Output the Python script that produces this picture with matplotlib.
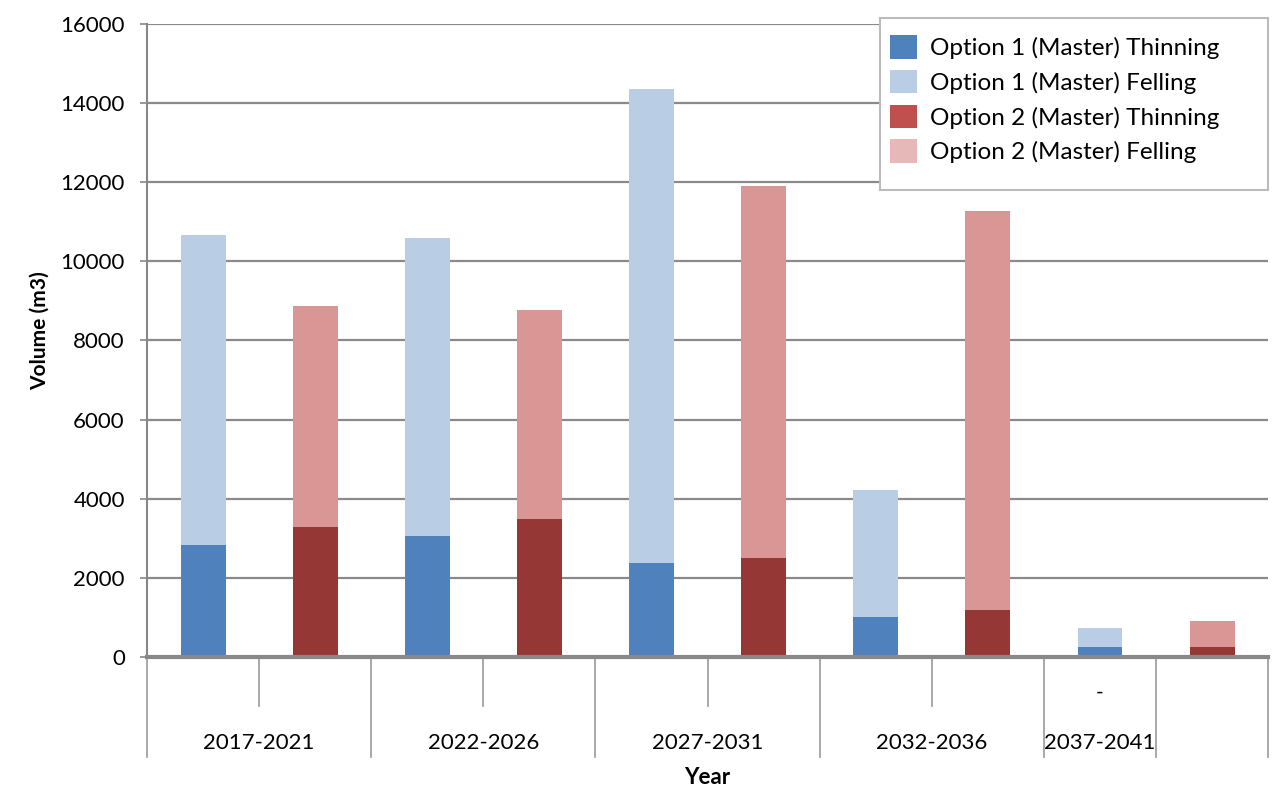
import matplotlib
matplotlib.use("Agg")
import matplotlib.pyplot as plt
from matplotlib.patches import Patch, Rectangle
import numpy as np

# Data (10 category slots; option 1 on odd slots, option 2 on even slots)
slot_sublabels = ["", "", "", "", "", "", "", "", "-", ""]
group_labels = ["2017-2021", "2022-2026", "2027-2031", "2032-2036", "2037-2041", ""]
group_sizes = [2, 2, 2, 2, 1, 1]

opt1_thinning = [2830, None, 3060, None, 2380, None, 1010, None, 250, None]
opt1_felling = [7840, None, 7530, None, 11980, None, 3210, None, 480, None]
opt2_thinning = [None, 3290, None, 3490, None, 2500, None, 1190, None, 250]
opt2_felling = [None, 5580, None, 5280, None, 9400, None, 10080, None, 660]

series_names = ["Option 1 (Master) Thinning", "Option 1 (Master) Felling",
                "Option 2 (Master) Thinning", "Option 2 (Master) Felling"]
bar_colors = ["#4F81BD", "#B9CDE5", "#953735", "#D99694"]
legend_colors = ["#4F81BD", "#B9CDE5", "#C0504D", "#E6B9B8"]

plt.rcParams['font.family'] = ['Lato', 'DejaVu Sans']

fig = plt.figure(figsize=(12.72, 7.87), dpi=100)
ax = fig.add_axes([0.1156, 0.1652, 0.8814, 0.8043])

x = np.arange(len(slot_sublabels))
w = 0.4

def clean(v):
    return np.array([np.nan if a is None else a for a in v], dtype=float)

t1, f1, t2, f2 = map(clean, [opt1_thinning, opt1_felling, opt2_thinning, opt2_felling])
ax.bar(x, np.nan_to_num(t1), w, color=bar_colors[0], zorder=3)
ax.bar(x, np.nan_to_num(f1), w, bottom=np.nan_to_num(t1), color=bar_colors[1], zorder=3)
ax.bar(x, np.nan_to_num(t2), w, color=bar_colors[2], zorder=3)
ax.bar(x, np.nan_to_num(f2), w, bottom=np.nan_to_num(t2), color=bar_colors[3], zorder=3)

ax.set_xlim(-0.5, len(slot_sublabels) - 0.5)
ax.set_ylim(0, 16000)
ax.set_yticks(np.arange(0, 16001, 2000))
ax.tick_params(axis='y', labelsize=16, length=5, width=1.2, color='#888888', pad=11)
ax.set_xticks([])
ax.yaxis.grid(True, color='#8a8a8a', linewidth=1.6, zorder=1)

for s in ['top', 'right']:
    ax.spines[s].set_visible(False)
ax.spines['left'].set_color('#888888')
ax.spines['left'].set_linewidth(1.5)
ax.spines['bottom'].set_color('#888888')
ax.spines['bottom'].set_linewidth(3)
ax.spines['bottom'].set_zorder(4)

# Multi-level category axis
trans = ax.get_xaxis_transform()
bounds = [0]
for g in group_sizes:
    bounds.append(bounds[-1] + g)
for b in range(len(slot_sublabels) + 1):
    xb = b - 0.5
    if b in bounds:
        ax.plot([xb, xb], [0, -0.158], transform=trans, color='#999999', lw=1.2, clip_on=False)
    else:
        ax.plot([xb, xb], [0, -0.077], transform=trans, color='#999999', lw=1.2, clip_on=False)
for xi, lab in zip(x, slot_sublabels):
    if lab:
        ax.text(xi, -0.057, lab, transform=trans, ha='center', va='center', fontsize=15)
for gi, lab in enumerate(group_labels):
    center = (bounds[gi] + bounds[gi + 1]) / 2 - 0.5
    ax.text(center, -0.136, lab, transform=trans, ha='center', va='center', fontsize=16)

fig.text(0.556, 0.0127, "Year", ha='center', va='center', fontsize=16, fontweight='bold')
fig.text(0.031, 0.58, "Volume (m3)", ha='center', va='center', rotation=90, fontsize=15, fontweight='bold')

# Legend frame (drawn separately to match the reference box)
fig.patches.append(Rectangle((0.6918, 0.7586), 0.3051, 0.2185, transform=fig.transFigure,
                             facecolor='white', edgecolor='#bbbbbb', linewidth=1.5, zorder=5))
handles = [Patch(facecolor=c, edgecolor='none') for c in legend_colors]
leg = fig.legend(handles, series_names, loc='upper left', bbox_to_anchor=(0.6995, 0.9555),
                 fontsize=17.5, frameon=False, borderpad=0,
                 handlelength=1.12, handleheight=1.12, labelspacing=0.44, handletextpad=0.55,
                 borderaxespad=0)
leg.set_zorder(6)

fig.savefig("out.png", dpi=100)
